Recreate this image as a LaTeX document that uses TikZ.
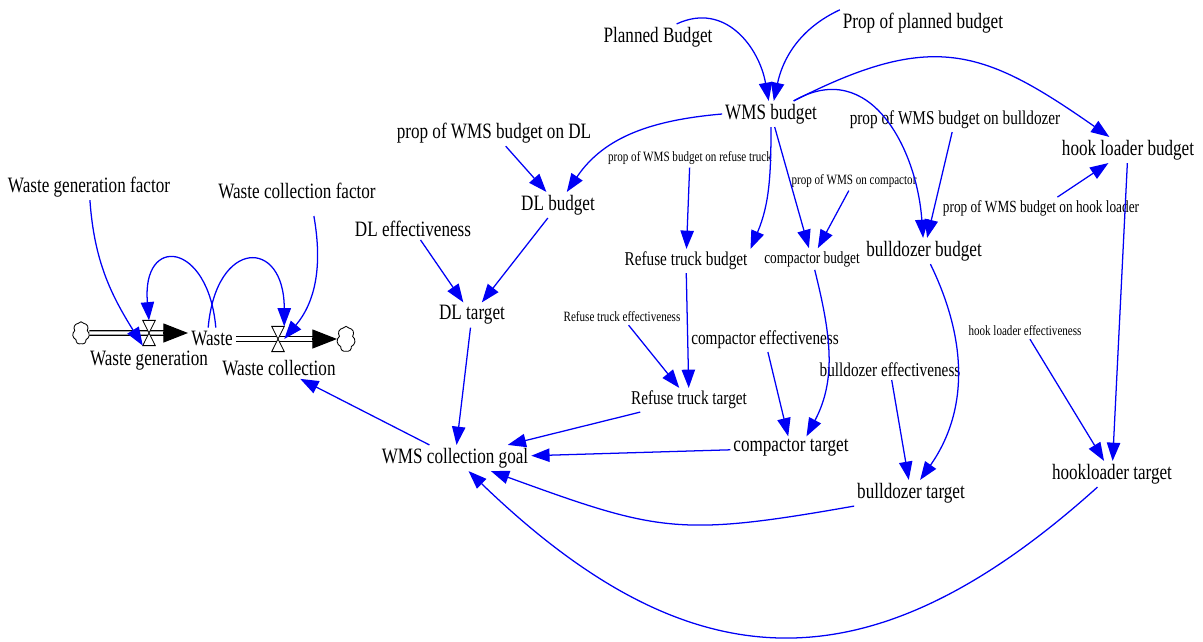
\documentclass[tikz,border=0pt]{standalone}
\usepackage{fontspec}
\setmainfont[FakeStretch=0.78]{Liberation Serif}
\usetikzlibrary{arrows.meta,shapes.symbols}

\begin{document}
\begin{tikzpicture}[x=0.025cm, y=0.025cm,
    varL/.style={font=\fontsize{15.6}{18}\selectfont, inner sep=2pt},
    varM/.style={font=\fontsize{13.9}{16}\selectfont, inner sep=2pt},
    varS/.style={font=\fontsize{12.1}{14}\selectfont, inner sep=2pt},
    varXS/.style={font=\fontsize{10.1}{12}\selectfont, inner sep=2pt},
    link/.style={draw=linkBlue, line width=0.9pt, -{Triangle[length=13pt,width=9.5pt]}},
    pipe/.style={draw=black, double=white, double distance=2.4pt, line width=0.9pt},
    flowhead/.style={line width=0.8pt, -{Triangle[length=17.5pt,width=13.5pt]}},
    valve/.style={inner sep=0pt, minimum width=8.5pt, minimum height=17.5pt},
    sourcesink/.style={cloud, draw, cloud puffs=7, cloud puff arc=120, cloud ignores aspect, inner sep=0pt, line width=0.6pt}]

    % Define colours
    \definecolor{linkBlue}{HTML}{0000F5}

    % Fix picture size
    \useasboundingbox (0,0) rectangle (1203,641);

    % Stock and flows
    \node[varL] (waste) at (212,303) {Waste};
    \node[sourcesink, minimum width=12pt, minimum height=16pt] (srcL) at (81,308) {};
    \node[valve] (wgv) at (149,308) {};
    \node[valve] (wcv) at (278,302) {};
    \coordinate (wgTip) at (188,308);
    \coordinate (wcTip) at (337,302);
    \node[sourcesink, anchor=west, minimum width=13pt, minimum height=18pt] (sinkR) at (wcTip) {};
    \node[varL] (wgl) at (149,280) {Waste generation};
    \node[varL] (wcl) at (279,273) {Waste collection};

    \draw[pipe] (srcL.east) -- ([xshift=-17pt]wgTip);
    \draw[pipe] (waste.east |- wcTip) -- ([xshift=-17pt]wcTip);
    \draw[flowhead] ([xshift=-18pt]wgTip) -- (wgTip);
    \draw[flowhead] ([xshift=-18pt]wcTip) -- (wcTip);
    \foreach \v in {wgv,wcv}
        \filldraw[fill=white, line width=0.6pt] (\v.north west) -- (\v.north east) -- (\v.south west) -- (\v.south east) -- cycle;

    % Auxiliary variables
    \node[varL] (wgf) at (89,454) {Waste generation factor};
    \node[varL] (wcf) at (297,450) {Waste collection factor};
    \node[varL] (pb) at (658,604) {Planned Budget};
    \node[varL] (ppb) at (923,618) {Prop of planned budget};
    \node[varL] (wmsb) at (771,527) {WMS budget};
    \node[varL] (pdl) at (494,508) {prop of WMS budget on DL};
    \node[varL] (dlb) at (558,436) {DL budget};
    \node[varL] (dle) at (413,412) {DL effectiveness};
    \node[varL] (dlt) at (472,326) {DL target};
    \node[varXS] (prt) at (690,483) {prop of WMS budget on refuse truck};
    \node[varXS] (pcp) at (854,460) {prop of WMS on compactor};
    \node[varM] (pbd) at (955,521) {prop of WMS budget on bulldozer};
    \node[varL] (hlb) at (1128,491) {hook loader budget};
    \node[varS] (phl) at (1041,433) {prop of WMS budget on hook loader};
    \node[varL] (bdb) at (924,390) {bulldozer budget};
    \node[varM] (rtb) at (686,380) {Refuse truck budget};
    \node[varS] (cpb) at (812,382) {compactor budget};
    \node[varXS] (rte) at (622,324) {Refuse truck effectiveness};
    \node[varM] (cpe) at (765,301) {compactor effectiveness};
    \node[varM] (bde) at (890,271) {bulldozer effectiveness};
    \node[varXS] (hle) at (1025,310) {hook loader effectiveness};
    \node[varM] (rtt) at (689,241) {Refuse truck target};
    \node[varL] (cpt) at (791,193) {compactor target};
    \node[varL] (bdt) at (911,148) {bulldozer target};
    \node[varL] (hlt) at (1112,167) {hookloader target};
    \node[varL] (wcg) at (455,183) {WMS collection goal};

    % Curved links
    \draw[link] (wgf) to[out=-86,in=122] (wgv.south west);
    \draw[link] ([xshift=12pt,yshift=-10pt]wcf.south) to[out=-80,in=50] (wcv.east);
    \draw[link] (waste.70) to[out=95,in=95,looseness=3.3] (wgv.north);
    \draw[link] (waste.110) to[out=85,in=90,looseness=3.0] (wcv.north east);
    \draw[link] (pb.35) to[out=25,in=100,looseness=1.15] (wmsb);
    \draw[link] (ppb.north west) to[out=205,in=78] (wmsb);
    \draw[link] (wmsb.west) to[out=185,in=56] (dlb);
    \draw[link] (wmsb.south) to[out=-90,in=67] (rtb.north east);
    \draw[link] (wmsb.30) to[out=30,in=94,looseness=1.2] (bdb);
    \draw[link] (wmsb.30) to[out=27,in=145,looseness=1.25] (hlb);
    \draw[link] (bdb) to[out=-64,in=55] (bdt);
    \draw[link] (cpb) to[out=-76,in=62] ([xshift=11pt]cpt.north);
    \draw[link] (bdt.south west) to[out=190,in=-20,looseness=1.25] (wcg);
    \draw[link] (hlt) to[out=222,in=-44,looseness=1.25] (wcg);

    % Straight links
    \foreach \a/\b in {pdl/dlb, dlb/dlt, dle/dlt, dlt/wcg, wcg/wcl, prt/rtb, wmsb/cpb, pcp/cpb, pbd/bdb, phl/hlb, hlb/hlt, hle/hlt, rtb/rtt, rte/rtt, cpe/cpt, bde/bdt, rtt/wcg, cpt/wcg}
        \draw[link] (\a) -- (\b);

\end{tikzpicture}
\end{document}
